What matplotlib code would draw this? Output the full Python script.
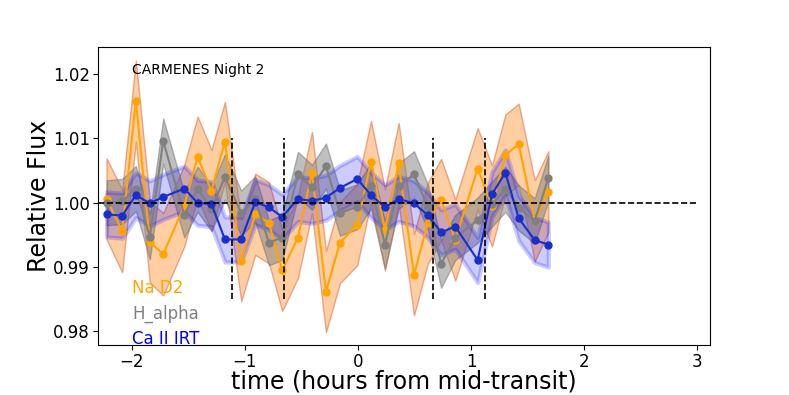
import numpy as np
import matplotlib
matplotlib.use("Agg")
import matplotlib.pyplot as plt

# time in hours from mid-transit
time = [-2.224, -2.086, -1.965, -1.841, -1.723, -1.537, -1.419, -1.296, -1.177, -1.033,
        -0.909, -0.788, -0.670, -0.531, -0.407, -0.283, -0.159, -0.006, 0.115, 0.239,
        0.360, 0.496, 0.617, 0.736, 0.861, 1.059, 1.186, 1.304, 1.422, 1.564, 1.684]

na_d2 = [1.0006, 0.9956, 1.0158, 0.9939, 0.9920, 0.9995, 1.0071, 1.0019, 1.0095, 0.9910,
         0.9982, 0.9969, 0.9895, 0.9946, 1.0047, 0.9862, 0.9938, 0.9966, 1.0064, 0.9958,
         1.0061, 0.9888, 0.9968, 1.0005, 0.9942, 1.0053, 0.9995, 1.0074, 1.0091, 0.9972, 1.0017]
na_d2_err = [0.0063, 0.0064, 0.0063, 0.0063, 0.0064, 0.0063, 0.0063, 0.0063, 0.0062, 0.0063,
             0.0063, 0.0063, 0.0063, 0.0063, 0.0063, 0.0063, 0.0063, 0.0063, 0.0063, 0.0063,
             0.0063, 0.0063, 0.0063, 0.0063, 0.0063, 0.0063, 0.0063, 0.0063, 0.0063, 0.0063, 0.0063]

h_alpha = [1.0000, 1.0002, 1.0022, 0.9947, 1.0096, 0.9981, 1.0021, 0.9991, 1.0040, 0.9984,
           1.0006, 0.9938, 0.9946, 1.0044, 1.0024, 1.0057, 0.9984, 0.9994, 1.0026, 0.9935,
           1.0026, 1.0044, 0.9994, 0.9905, 0.9946, 0.9973, 0.9998, 1.0021, 0.9992, 0.9972, 1.0038]
h_alpha_err = [0.0035, 0.0035, 0.0035, 0.0035, 0.0035, 0.0035, 0.0035, 0.0035, 0.0035, 0.0035,
               0.0035, 0.0035, 0.0035, 0.0035, 0.0035, 0.0035, 0.0035, 0.0035, 0.0035, 0.0037,
               0.0035, 0.0036, 0.0035, 0.0037, 0.0035, 0.0035, 0.0035, 0.0035, 0.0035, 0.0035, 0.0035]

ca_irt = [0.9982, 0.9980, 1.0012, 0.9999, 1.0009, 1.0022, 1.0000, 0.9998, 0.9943, 0.9943,
          1.0001, 0.9993, 0.9978, 1.0006, 1.0003, 1.0008, 1.0023, 1.0037, 1.0012, 0.9993,
          1.0006, 0.9999, 0.9981, 0.9954, 0.9963, 0.9911, 1.0013, 1.0047, 0.9976, 0.9942, 0.9935]
ca_irt_err = [0.0035, 0.0035, 0.0035, 0.0035, 0.0035, 0.0035, 0.0035, 0.0035, 0.0035, 0.0035,
              0.0035, 0.0035, 0.0035, 0.0035, 0.0035, 0.0035, 0.0035, 0.0035, 0.0035, 0.0035,
              0.0035, 0.0035, 0.0035, 0.0035, 0.0035, 0.0035, 0.0035, 0.0035, 0.0035, 0.0035, 0.0035]

contacts = [-1.11, -0.65, 0.665, 1.125]

t = np.array(time)
fig = plt.figure(figsize=(7.89, 3.95), dpi=100)
ax = fig.add_axes([0.1242, 0.1266, 0.7757, 0.7544])

na = np.array(na_d2); nae = np.array(na_d2_err)
ha = np.array(h_alpha); hae = np.array(h_alpha_err)
ca = np.array(ca_irt); cae = np.array(ca_irt_err)

ax.fill_between(t, na - nae, na + nae, facecolor=(1.0, 0.5, 0.05, 0.38),
                edgecolor=(0.85, 0.42, 0.25, 0.55), linewidth=1.0, zorder=1)
ax.fill_between(t, ha - hae, ha + hae, facecolor=(0.5, 0.5, 0.5, 0.5),
                edgecolor=(0.45, 0.45, 0.45, 0.5), linewidth=1.0, zorder=2)
ax.fill_between(t, ca - cae, ca + cae, facecolor=(0, 0, 1, 0.2),
                edgecolor=(0, 0, 1, 0.2), linewidth=3, zorder=3)

ax.plot(t, na, '-o', color='orange', lw=1.5, ms=5, zorder=4)
ax.plot(t, ha, '-o', color='gray', lw=1.5, ms=5, zorder=5)
ax.plot(t, ca, '-o', color='#1a2ecc', lw=1.5, ms=5, zorder=6)

ax.plot([-2.3, 3.0], [1.0, 1.0], '--', color='black', lw=1.2, zorder=7)
for c in contacts:
    ax.plot([c, c], [0.985, 1.01], '--', color='black', lw=1.2, zorder=7)

ax.text(-2.0, 1.0206, "CARMENES Night 2", fontsize=10, va='center', ha='left')
ax.text(-2.0, 0.98592, "Na D2", color='orange', fontsize=12, va='baseline')
ax.text(-2.0, 0.98204, "H_alpha", color='gray', fontsize=12, va='baseline')
ax.text(-2.0, 0.97812, "Ca II IRT", color='blue', fontsize=12, va='baseline')

ax.set_xlim(-2.30, 3.115)
ax.set_ylim(0.9779, 1.0242)
ax.set_xticks([-2, -1, 0, 1, 2, 3])
ax.set_yticks([0.98, 0.99, 1.00, 1.01, 1.02])
ax.set_yticklabels(["0.98", "0.99", "1.00", "1.01", "1.02"])
ax.tick_params(labelsize=12, pad=2.5)
ax.set_xlabel("time (hours from mid-transit)", fontsize=17, labelpad=-1)
ax.set_ylabel("Relative Flux", fontsize=17, labelpad=1)

fig.savefig("out.png", dpi=100)
